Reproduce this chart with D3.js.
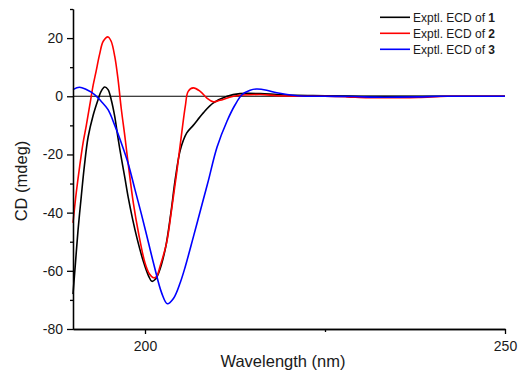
<!DOCTYPE html>
<html>
<head>
<meta charset="utf-8" />
<title>ECD spectra</title>
<script src="https://cdn.jsdelivr.net/npm/d3@7"></script>
<style>
  body { margin: 0; background: #fff; }
  svg { display: block; font-family: "Liberation Sans", Arial, sans-serif; }
</style>
</head>
<body>
<script>
  // compound 1 (black)
  var wl1 = [190, 190.35, 190.7, 191.15, 191.6, 192.1, 192.8, 193.5, 193.9, 194.4, 194.87, 195.3, 195.8, 196.26, 196.7, 197.2, 197.65, 198.3, 198.86, 199.8, 200.5, 200.95, 201.4, 201.9, 202.8, 203.6, 204.2, 204.9, 205.8, 206.7, 208.1, 209.5, 211.4, 213.2, 216, 218.3, 221, 225, 230, 235, 240, 245, 250];
  var cd1 = [-68, -57, -46, -34.4, -23.5, -14, -6.5, -1, 1.7, 3.2, 2.3, -1.1, -7, -14.5, -21, -28, -34.5, -42.5, -48.5, -57, -61.8, -63.6, -63, -60.7, -52.7, -40, -28.5, -18.5, -12.6, -10, -5.7, -2.3, 0, 0.9, 0.9, 0.6, 0.3, 0.2, 0, 0, 0, 0, 0];
  // compound 2 (red)
  var wl2 = [190, 190.46, 190.93, 191.4, 191.85, 192.3, 192.8, 193.2, 193.7, 194.2, 194.87, 195.3, 195.8, 196.26, 196.7, 197.2, 197.65, 198.4, 199.1, 200, 200.6, 201.2, 201.6, 202.1, 203, 203.7, 204.4, 205.1, 205.6, 206, 206.7, 207.66, 208.6, 209.5, 210.4, 212.3, 216, 218.3, 221, 225, 228, 231, 235, 238, 242, 246, 250];
  var cd2 = [-43.5, -33, -24, -16, -10, -3.5, 3.8, 8.5, 14.5, 18.9, 20.4, 18.9, 13.7, 5.7, -4.2, -13.7, -22.9, -37, -47, -57.3, -61, -62.4, -62, -58.4, -50.4, -38.9, -26.3, -12.6, -3.4, 1.7, 2.9, 1.7, -0.6, -1.9, -1.4, 0, 0.6, 0.2, 0, 0, -0.2, -0.5, -0.5, -0.4, 0, 0, 0];
  // compound 3 (blue)
  var wl3 = [190, 190.9, 191.85, 193, 193.9, 194.87, 195.8, 196.7, 197.65, 198.6, 199.5, 200.4, 201.3, 202.3, 203.1, 203.95, 204.9, 205.6, 206.7, 208.1, 208.8, 210, 211.4, 212.5, 213.5, 214.6, 215.5, 216.9, 218.3, 221.1, 225, 229, 232, 235, 238, 241, 245, 250];
  var cd3 = [2.3, 3.1, 2.3, 0.6, -1.7, -4.6, -10, -16, -23, -32, -40.5, -49.5, -58.5, -67.5, -71.3, -69.5, -64, -58.5, -48.5, -35.5, -29, -17.5, -8.5, -3, 0.6, 2.1, 2.5, 2.1, 1.2, 0.2, 0, -0.1, -0.3, -0.3, -0.2, 0, 0, 0];

  var names = ["1", "2", "3"];
  var colors = ["#000000", "#ff0000", "#0000ff"];
  var xTicks = [200, 250];
  var xMinor = [225];
  var yTicks = [-80, -60, -40, -20, 0, 20];
  var yMinor = [-70, -50, -30, -10, 10, 30];

  var series = [
    { name: names[0], color: colors[0], pts: wl1.map(function (w, i) { return [w, cd1[i]]; }) },
    { name: names[1], color: colors[1], pts: wl2.map(function (w, i) { return [w, cd2[i]]; }) },
    { name: names[2], color: colors[2], pts: wl3.map(function (w, i) { return [w, cd3[i]]; }) }
  ];

  var width = 528, height = 382;
  var x = d3.scaleLinear().domain([190, 250]).range([73, 505]);
  var y = d3.scaleLinear().domain([-80, 30]).range([329, 9]);

  var svg = d3.select("body").append("svg")
    .attr("width", width)
    .attr("height", height);

  // zero line
  svg.append("line")
    .attr("x1", x(190)).attr("x2", x(250))
    .attr("y1", y(0)).attr("y2", y(0))
    .attr("stroke", "#000").attr("stroke-width", 1.2);

  var line = d3.line()
    .x(function (d) { return x(d[0]); })
    .y(function (d) { return y(d[1]); })
    .curve(d3.curveCatmullRom.alpha(0.5));

  svg.append("g")
    .selectAll("path")
    .data(series)
    .enter()
    .append("path")
    .attr("d", function (d) { return line(d.pts); })
    .attr("fill", "none")
    .attr("stroke", function (d) { return d.color; })
    .attr("stroke-width", 1.6);

  // axes
  svg.append("g")
    .attr("transform", "translate(" + x(190) + ",0)")
    .call(d3.axisLeft(y).tickValues(yTicks).tickSize(6).tickPadding(4).tickSizeOuter(0)
      .tickFormat(function (d) { return String(d); }));
  svg.append("g")
    .attr("transform", "translate(" + x(190) + ",0)")
    .call(d3.axisLeft(y).tickValues(yMinor).tickSize(3).tickSizeOuter(0).tickFormat(""));
  svg.append("g")
    .attr("transform", "translate(0," + y(-80) + ")")
    .call(d3.axisBottom(x).tickValues(xTicks).tickSize(5).tickPadding(7).tickSizeOuter(0)
      .tickFormat(function (d) { return String(d); }));
  svg.append("g")
    .attr("transform", "translate(0," + y(-80) + ")")
    .call(d3.axisBottom(x).tickValues(xMinor).tickSize(3).tickSizeOuter(0).tickFormat(""));

  svg.selectAll(".domain, .tick line")
    .attr("stroke", "#000")
    .attr("stroke-width", 1.3);
  svg.selectAll(".tick text")
    .attr("fill", "#1a1a1a")
    .style("font-size", "14px")
    .style("font-family", "'Liberation Sans', Arial, sans-serif");

  // axis titles
  svg.append("text")
    .attr("x", 283).attr("y", 367)
    .attr("text-anchor", "middle")
    .style("font-size", "16.5px")
    .attr("fill", "#1a1a1a")
    .text("Wavelength (nm)");
  svg.append("text")
    .attr("transform", "translate(27,181) rotate(-90)")
    .attr("text-anchor", "middle")
    .style("font-size", "16.5px")
    .attr("fill", "#1a1a1a")
    .text("CD (mdeg)");

  // legend
  var legend = svg.append("g")
    .selectAll("g")
    .data(series)
    .enter()
    .append("g")
    .attr("transform", function (d, i) { return "translate(380," + (17.3 + i * 16) + ")"; });
  legend.append("line")
    .attr("x1", 0).attr("x2", 30)
    .attr("stroke", function (d) { return d.color; })
    .attr("stroke-width", 1.6);
  var lt = legend.append("text")
    .attr("x", 33).attr("dy", "0.36em")
    .style("font-size", "12px")
    .attr("fill", "#1a1a1a");
  lt.append("tspan").text("Exptl. ECD of ");
  lt.append("tspan").style("font-weight", "bold").text(function (d) { return d.name; });
</script>
</body>
</html>
